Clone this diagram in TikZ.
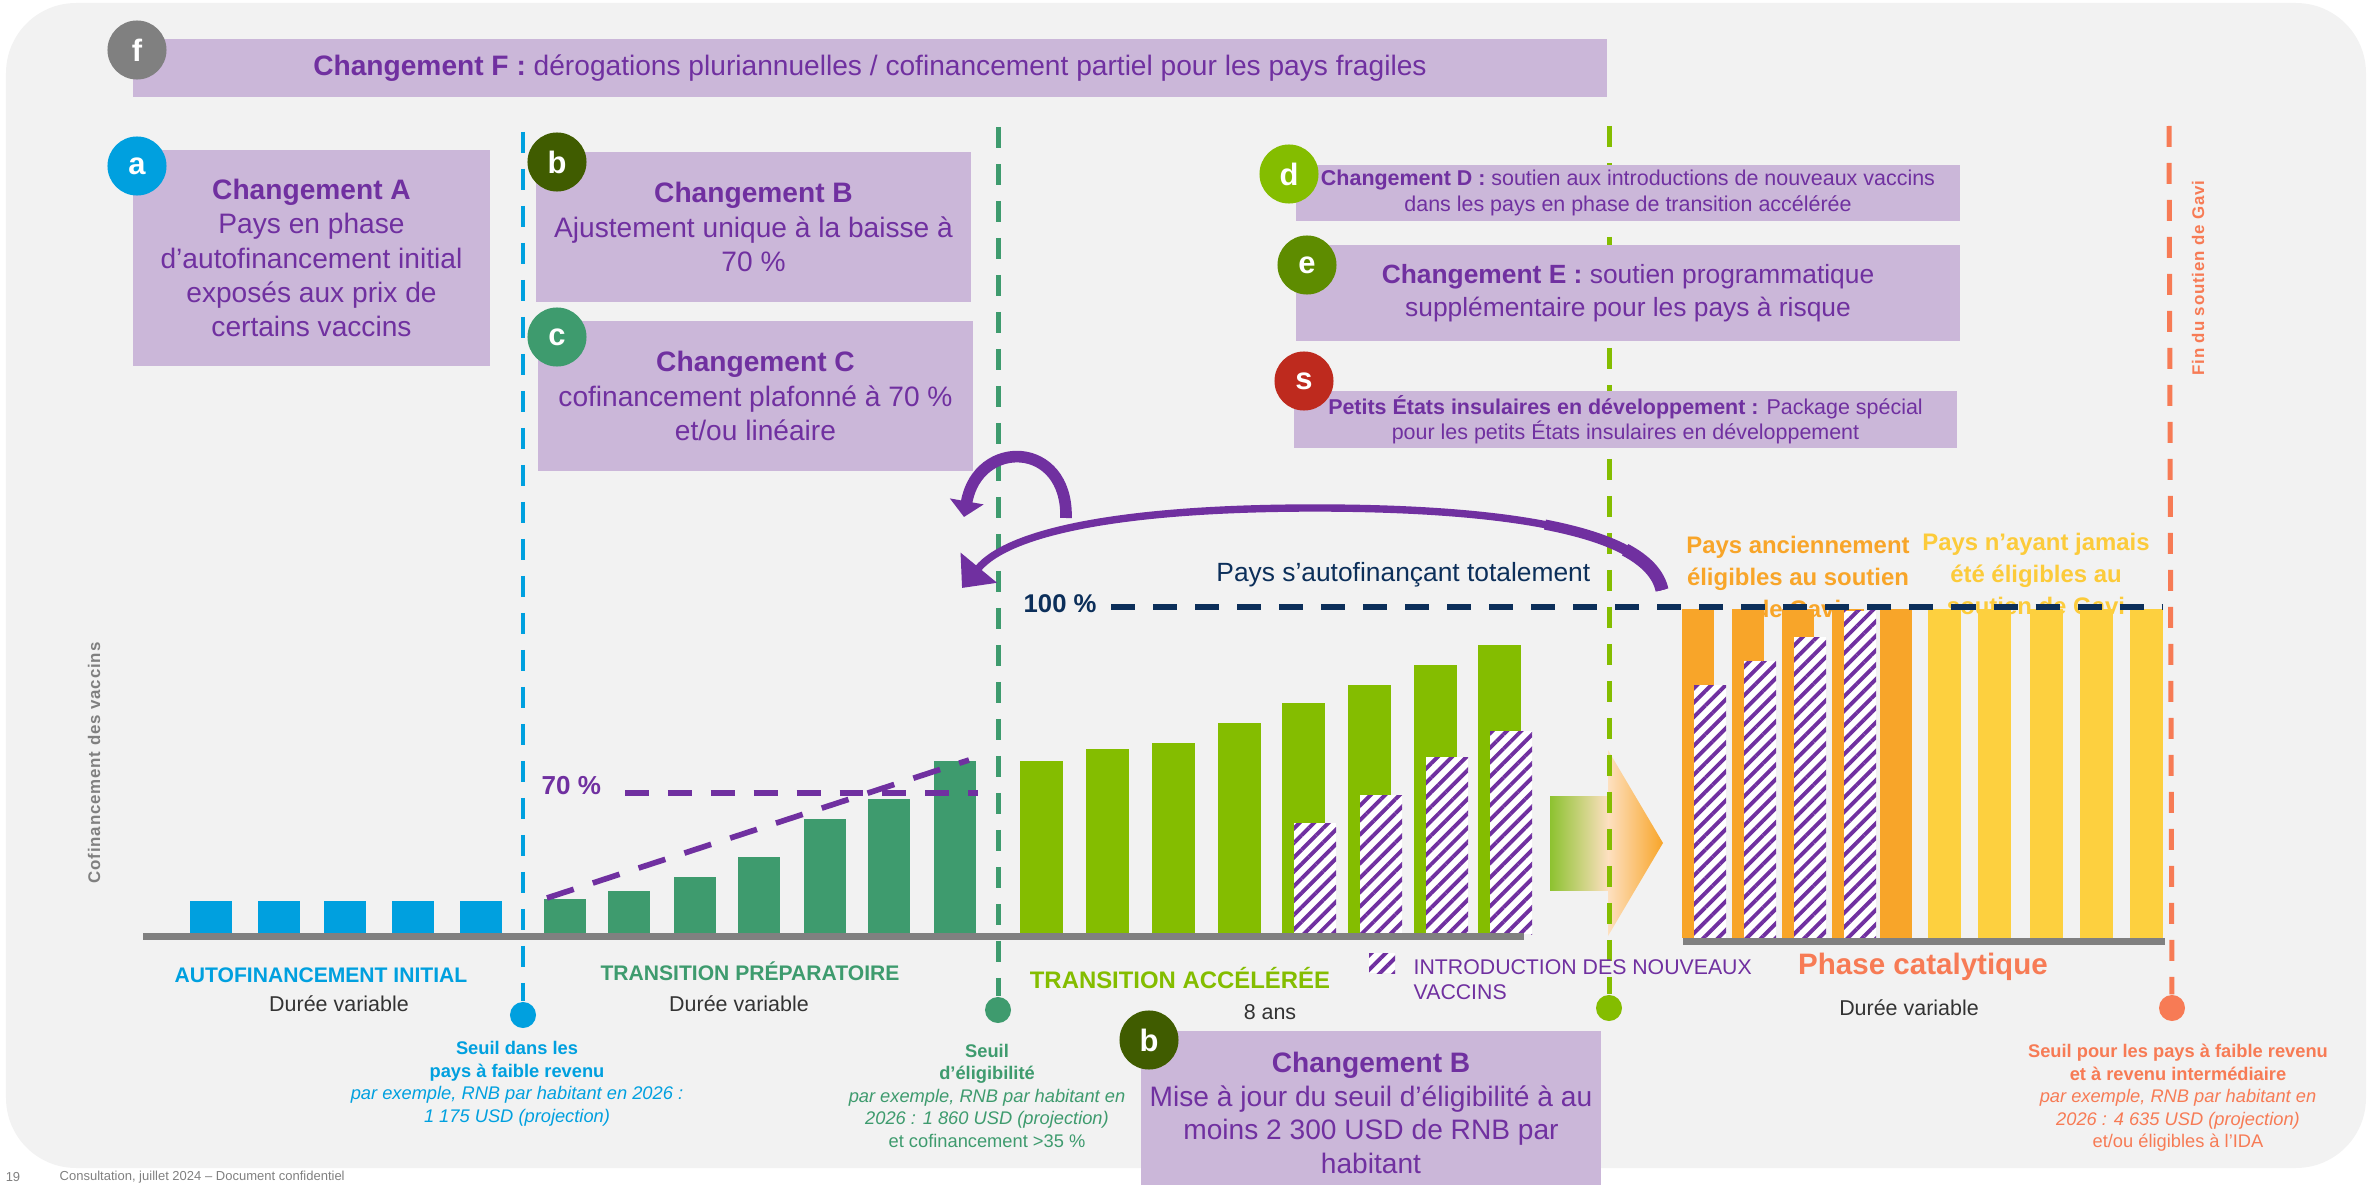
\documentclass[tikz,border=0pt]{standalone}
\usepackage{fontspec}
\setmainfont{Liberation Sans}
\newfontfamily\widefont[LetterSpace=5]{Liberation Sans}
\usetikzlibrary{arrows.meta,patterns.meta}

\definecolor{bggrey}{HTML}{F2F2F2}
\definecolor{lav}{HTML}{CBB7D9}
\definecolor{purp}{HTML}{7030A0}
\definecolor{cblue}{HTML}{00A0DF}
\definecolor{cdgreen}{HTML}{3E9B6E}
\definecolor{clime}{HTML}{84BD00}
\definecolor{colive}{HTML}{405C00}
\definecolor{cegreen}{HTML}{5E8C00}
\definecolor{cred}{HTML}{BE2A1E}
\definecolor{cgrey}{HTML}{808080}
\definecolor{corange}{HTML}{F8A529}
\definecolor{cyellow}{HTML}{FDD03F}
\definecolor{cyeltxt}{HTML}{FCCB3A}
\definecolor{csalmon}{HTML}{F77B55}
\definecolor{cnavy}{HTML}{0C2F5A}
\definecolor{cdark}{HTML}{333333}
\definecolor{cpeach}{HTML}{FDE0C0}
\definecolor{cgradg}{HTML}{8DC230}

\newcommand\ftbox{\fontsize{8}{9.7}\selectfont}
\newcommand\ftmid{\fontsize{7.5}{9.4}\selectfont}
\newcommand\ftsmall{\fontsize{6.1}{7.2}\selectfont}
\newcommand\ftseuil{\fontsize{5.2}{6.4}\selectfont}
\newcommand\ftphase{\fontsize{6}{7}\selectfont}
\newcommand\ftdur{\fontsize{6.1}{7}\selectfont}

\begin{document}
\begin{tikzpicture}[x=0.01cm,y=-0.01cm,
  box/.style={fill=lav, inner sep=0, text=purp, align=center},
  badge/.style={circle, fill=#1, minimum size=0.59cm, inner sep=0, text=white,
    font=\fontsize{8.8}{9}\selectfont\bfseries},
  dot/.style={circle, fill=#1, minimum size=0.26cm, inner sep=0},
  vline/.style={draw=#1, line width=1.42pt, dash pattern=on 5.97pt off 4.55pt},
  hatch/.style={fill=white, postaction={pattern color=purp,
    pattern={Lines[angle=45,distance=2.9pt,line width=1.1pt]}}},
  lbl/.style={inner sep=0, align=center},
]
\useasboundingbox (0,0) rectangle (2377,1185);

% panel
\path[fill=bggrey, rounded corners=0.7cm] (6,3) rectangle (2366,1168);

% labels that sit behind the catalytic bars
\node[lbl, text=corange, font=\fontsize{6.8}{9.1}\selectfont\bfseries] (oldElig) at (1798,577)
  {Pays anciennement\\éligibles au soutien\\de Gavi};
\node[lbl, text=cyeltxt, font=\fontsize{6.8}{9.1}\selectfont\bfseries] (neverElig) at (2036,574)
  {Pays n’ayant jamais\\été éligibles au\\soutien de Gavi};

% ---- bars: initial self-financing
\foreach \x in {190,258,324,392,460}
  \fill[cblue] (\x,901) rectangle ++(42,32);
% ---- bars: preparatory transition
\foreach \x/\t in {544/899,608/891,674/877,738/857,804/819,868/799,934/761}
  \fill[cdgreen] (\x,\t) rectangle (\x+42,933);
% ---- bars: accelerated transition
\foreach \x/\t in {1020/761,1086/749,1152/743,1218/723,1282/703,1348/685,1414/665,1478/645}
  \fill[clime] (\x,\t) rectangle (\x+43,934);
\foreach \x/\t in {1294/823,1360/795,1426/757,1490/731}
  \path[hatch] (\x,\t) rectangle (\x+42,934);
% ---- bars: catalytic phase
\foreach \x in {1682,1732,1782,1832,1880}
  \fill[corange] (\x,609) rectangle (\x+32,938);
\foreach \x/\t in {1694/685,1744/661,1794/637,1844/611}
  \path[hatch] (\x,\t) rectangle (\x+32,938);
\foreach \x in {1928,1978,2030,2080,2130}
  \fill[cyellow] (\x,609) rectangle (\x+33,938);

% axes
\fill[cgrey] (143,933) rectangle (1524,940);
\fill[cgrey] (1683,938) rectangle (2165,945);

% transition arrow
\shade[left color=cgradg, right color=cpeach] (1550,796) rectangle (1608,890);
\shade[left color=cpeach, right color=corange] (1608,750) -- (1663,843) -- (1608,936) -- cycle;

% phase boundaries
\node[dot=cblue] (dotLow) at (523,1015) {};
\node[dot=cdgreen] (dotElig) at (998,1010) {};
\node[dot=clime] (dotAcc) at (1609,1008) {};
\node[dot=csalmon] (dotEnd) at (2172,1008) {};
\coordinate (topLow) at (523,132);
\coordinate (topElig) at (998,127);
\coordinate (topAcc) at (1609,126);
\coordinate (topEnd) at (2169,126);
\draw[vline=cblue] (topLow) -- (dotLow);
\draw[vline=cdgreen] (topElig) -- (dotElig);
\draw[vline=clime] (topAcc) -- (dotAcc);
\draw[vline=csalmon] (topEnd) -- (dotEnd);

% change boxes
\node[box, minimum width=14.74cm, minimum height=0.58cm, font=\ftbox] (boxF) at (870,68)
  {\textbf{Changement F :} dérogations pluriannuelles / cofinancement partiel pour les pays fragiles};
\node[box, minimum width=3.57cm, minimum height=2.15cm, font=\ftbox] (boxA) at (311.5,258)
  {\textbf{Changement A}\\Pays en phase\\d’autofinancement initial\\exposés aux prix de\\certains vaccins};
\node[box, minimum width=4.35cm, minimum height=1.5cm, font=\ftbox] (boxB) at (753.5,227)
  {\textbf{Changement B}\\Ajustement unique à la baisse à\\70~\%};
\node[box, minimum width=4.35cm, minimum height=1.49cm, font=\ftbox] (boxC) at (755.5,396)
  {\textbf{Changement C}\\cofinancement plafonné à 70~\%\\et/ou linéaire};
\node[box, minimum width=6.64cm, minimum height=0.56cm, font=\ftsmall] (boxD) at (1628,193)
  {\textbf{Changement D :} soutien aux introductions de nouveaux vaccins\\dans les pays en phase de transition accélérée};
\node[box, minimum width=6.64cm, minimum height=0.96cm, font=\ftmid] (boxE) at (1628,293)
  {\textbf{Changement E :} soutien programmatique\\supplémentaire pour les pays à risque};
\node[box, minimum width=6.63cm, minimum height=0.57cm, font=\ftsmall] (boxS) at (1625.5,419.5)
  {\textbf{Petits États insulaires en développement :} Package spécial\\pour les petits États insulaires en développement};
\node[box, minimum width=4.6cm, minimum height=1.64cm, font=\fontsize{8}{9.5}\selectfont] (boxB2) at (1371,1113)
  {\textbf{Changement B}\\Mise à jour du seuil d’éligibilité à au\\moins 2~300 USD de RNB par\\habitant};

% badges
\node[badge=cgrey] (bf) at (137,50) {f};
\node[badge=cblue] (ba) at (137,166) {a};
\node[badge=colive] (bb) at (557,162) {b};
\node[badge=cdgreen] (bc) at (557,337) {c};
\node[badge=clime] (bd) at (1289,174) {d};
\node[badge=cegreen] (be) at (1307,265) {e};
\node[badge=cred] (bs) at (1304,381) {s};
\node[badge=colive] (bb2) at (1149,1040) {b};

% co-financing trajectories
\coordinate (capL) at (625,793);
\coordinate (capR) at (978,793);
\coordinate (linL) at (547,898);
\coordinate (linR) at (969,760);
\draw[purp, line width=1.6pt, dash pattern=on 6.8pt off 5.4pt] (capL) -- (capR);
\draw[purp, line width=1.6pt, dash pattern=on 8pt off 5.7pt] (linL) -- (linR);
\node[lbl, text=purp, font=\fontsize{7.4}{8}\selectfont\bfseries, anchor=west] (pct70) at (541,786) {70 \%};

\coordinate (fullL) at (1111,607);
\coordinate (fullR) at (2163,607);
\draw[cnavy, line width=1.7pt, dash pattern=on 6.83pt off 5.12pt] (fullL) -- (fullR);
\node[lbl, text=cnavy, font=\fontsize{7.3}{8}\selectfont\bfseries, anchor=west] (pct100) at (1023,604) {100 \%};
\node[lbl, text=cnavy, font=\fontsize{7.5}{8}\selectfont, anchor=east] (selfFin) at (1591,575) {Pays s’autofinançant totalement};

% return arrows (the long one thickens towards its tail)
\coordinate (arcR) at (1662,590);
\coordinate (arcTop) at (1315,508);
\coordinate (arcL) at (962,588);
\draw[purp, line width=2.1pt, -{Triangle[width=13pt,length=7.5pt]}]
  (arcR) .. controls (1648,525) and (1480,508) .. (arcTop)
  .. controls (1130,508) and (1010,530) .. (arcL);
\draw[purp, line width=2.9pt] (arcR) .. controls (1655,557.5) and (1609.5,537) .. (1545,524.6);
\draw[purp, line width=3.7pt] (arcR) .. controls (1658.5,573.75) and (1645.4,560.5) .. (1625.1,549.7);
\coordinate (loopR) at (1066,518);
\coordinate (loopL) at (964,517);
\draw[purp, line width=3.3pt, -{Triangle[width=9.5pt,length=4.5pt]}]
  (loopR) .. controls (1068,440) and (978,438) .. (loopL);

% phase names
\node[lbl, text=cblue, font=\ftphase\bfseries] (phInit) at (321,975) {AUTOFINANCEMENT INITIAL};
\node[lbl, text=cdark, font=\ftdur] (durInit) at (339,1004) {Durée variable};
\node[lbl, text=cdgreen, font=\ftphase\bfseries] (phPrep) at (750,971) {TRANSITION PRÉPARATOIRE};
\node[lbl, text=cdark, font=\ftdur] (durPrep) at (739,1004) {Durée variable};
\node[lbl, text=clime, font=\fontsize{6.8}{7.5}\selectfont\bfseries] (phAcc) at (1180,978) {TRANSITION ACCÉLÉRÉE};
\node[lbl, text=cdark, font=\ftdur] (durAcc) at (1270,1012) {8 ans};
\node[lbl, text=csalmon, font=\fontsize{8.4}{9}\selectfont\bfseries] (phCat) at (1923,967) {Phase catalytique};
\node[lbl, text=cdark, font=\ftdur] (durCat) at (1909,1008) {Durée variable};

% legend
\path[hatch] (1369,953) rectangle (1395,973);
\node[lbl, text=purp, font=\fontsize{6.05}{7.1}\selectfont, align=left, anchor=west] (legNew) at (1413,979.5)
  {INTRODUCTION DES NOUVEAUX\\VACCINS};

% thresholds
\node[lbl, text=cblue, font=\ftseuil] (thrLow) at (517,1084)
  {\textbf{Seuil dans les}\\\textbf{pays à faible revenu}\\\textit{par exemple, RNB par habitant en 2026 :}\\\textit{1 175 USD (projection)}};
\node[lbl, text=cdgreen, font=\ftseuil] (thrElig) at (987,1095.5)
  {\textbf{Seuil}\\\textbf{d’éligibilité}\\\textit{par exemple, RNB par habitant en}\\\textit{2026 : 1 860 USD (projection)}\\et cofinancement >35~\%};
\node[lbl, text=csalmon, font=\ftseuil] (thrEnd) at (2178,1098)
  {\textbf{Seuil pour les pays à faible revenu}\\\textbf{et à revenu intermédiaire}\\\textit{par exemple, RNB par habitant en}\\\textit{2026 : 4 635 USD (projection)}\\et/ou éligibles à l’IDA};

% side labels
\node[lbl, rotate=90, text=cgrey, font=\widefont\bfseries\fontsize{4.8}{5.5}\selectfont] (yLab) at (94,763)
  {Cofinancement des vaccins};
\node[lbl, rotate=90, text=csalmon, font=\widefont\bfseries\fontsize{4.8}{5.5}\selectfont] (endLab) at (2198,278)
  {Fin du soutien de Gavi};

% footer
\node[lbl, text=cgrey, font=\fontsize{3.7}{4}\selectfont] (pageNo) at (13,1177) {19};
\node[lbl, text=cgrey, font=\fontsize{3.7}{4}\selectfont, anchor=west] (footer) at (59,1177)
  {Consultation, juillet 2024 – Document confidentiel};
\end{tikzpicture}
\end{document}
